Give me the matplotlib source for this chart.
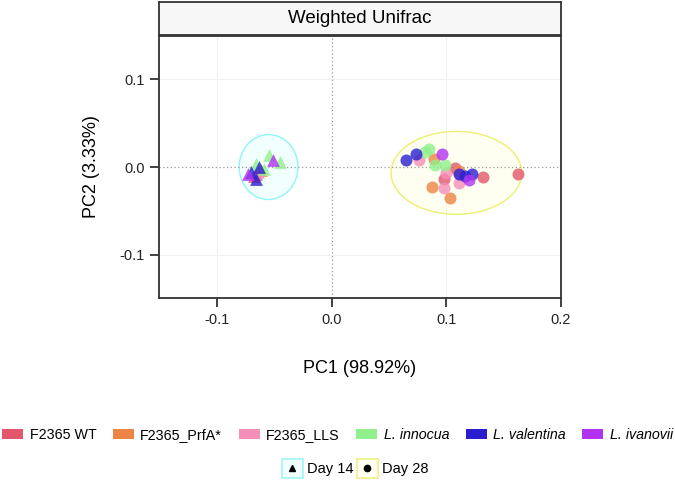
import numpy as np
import matplotlib.pyplot as plt
from matplotlib.patches import Ellipse, Rectangle, Patch
from matplotlib.lines import Line2D

plt.rcParams['font.family'] = ['Liberation Sans', 'DejaVu Sans']

# groups and colours
groups = ["F2365 WT", "F2365_PrfA*", "F2365_LLS", "L. innocua", "L. valentina", "L. ivanovii"]
colors = ["#E3566B", "#EC8444", "#F58EB8", "#90F08C", "#2A1FD0", "#B232F2"]

# Day 14 (triangles) - PC1 / PC2 per group
d14_x = {
    "F2365 WT":     [-0.0661, -0.0676],
    "F2365_PrfA*":  [-0.0617],
    "F2365_LLS":    [-0.0641],
    "L. innocua":   [-0.0545, -0.0452, -0.0661, -0.0589],
    "L. valentina": [-0.0704, -0.0656, -0.0632],
    "L. ivanovii":  [-0.0508, -0.0725],
}
d14_y = {
    "F2365 WT":     [-0.0075, -0.0106],
    "F2365_PrfA*":  [-0.0038],
    "F2365_LLS":    [-0.0060],
    "L. innocua":   [0.0133, 0.0057, 0.0039, -0.0018],
    "L. valentina": [-0.0057, -0.0132, 0.0000],
    "L. ivanovii":  [0.0076, -0.0075],
}

# Day 28 (circles)
d28_x = {
    "F2365 WT":     [0.1078, 0.0983, 0.1316, 0.1623],
    "F2365_PrfA*":  [0.0890, 0.1107, 0.0875, 0.1029],
    "F2365_LLS":    [0.0759, 0.1000, 0.1116, 0.1113, 0.0983],
    "L. innocua":   [0.0817, 0.0846, 0.0898, 0.0985],
    "L. valentina": [0.0652, 0.0736, 0.1107, 0.1223, 0.1159],
    "L. ivanovii":  [0.0962, 0.1200],
}
d28_y = {
    "F2365 WT":     [-0.0011, -0.0136, -0.0114, -0.0075],
    "F2365_PrfA*":  [0.0091, -0.0045, -0.0227, -0.0352],
    "F2365_LLS":    [0.0076, -0.0068, -0.0075, -0.0182, -0.0239],
    "L. innocua":   [0.0170, 0.0201, 0.0027, 0.0023],
    "L. valentina": [0.0076, 0.0144, -0.0083, -0.0083, -0.0106],
    "L. ivanovii":  [0.0144, -0.0143],
}

# confidence ellipses (center x, center y, width, height)
ell_d14 = [-0.0550, 0.0000, 0.0513, 0.0739]
ell_d28 = [0.1088, -0.0066, 0.1140, 0.0943]

fig = plt.figure(figsize=(6.75, 4.8), dpi=100)
ax = fig.add_axes([0.2356, 0.379, 0.5955, 0.546])

ax.add_patch(Ellipse((ell_d14[0], ell_d14[1]), ell_d14[2], ell_d14[3],
                     facecolor=(0.5, 1.0, 1.0, 0.10), edgecolor="#8FF5F5", lw=1.0, zorder=1))
ax.add_patch(Ellipse((ell_d28[0], ell_d28[1]), ell_d28[2], ell_d28[3],
                     facecolor=(1.0, 1.0, 0.55, 0.12), edgecolor="#EEEE70", lw=1.0, zorder=1))

for g, c in zip(groups, colors):
    ax.scatter(d14_x[g], d14_y[g], marker="^", s=85, color=c, alpha=0.8, lw=0, zorder=3)
    ax.scatter(d28_x[g], d28_y[g], marker="o", s=75, color=c, alpha=0.8, lw=0, zorder=3)

ax.axhline(0, color="#999999", ls=(0, (1, 2)), lw=0.9, zorder=2)
ax.axvline(0, color="#999999", ls=(0, (1, 2)), lw=0.9, zorder=2)

ax.set_xlim(-0.1505, 0.2)
ax.set_ylim(-0.149, 0.149)
ax.set_xticks([-0.1, 0.0, 0.1, 0.2])
ax.set_xticklabels(["-0.1", "0.0", "0.1", "0.2"])
ax.set_yticks([-0.1, 0.0, 0.1])
ax.set_yticklabels(["-0.1", "0.0", "0.1"])
for v in [-0.1, 0.1]:
    ax.axvline(v, color="#F0F0F0", lw=0.8, zorder=0)
    ax.axhline(v, color="#F0F0F0", lw=0.8, zorder=0)

for s in ax.spines.values():
    s.set_color("#333333")
    s.set_linewidth(1.3)
ax.tick_params(length=6.5, width=1.3, color="#333333", labelsize=10.5,
               labelcolor="#222222", pad=4)
ax.set_xlabel("PC1 (98.92%)", fontsize=13, labelpad=24)
ax.set_ylabel("PC2 (3.33%)", fontsize=13, labelpad=14)

# facet strip
sax = fig.add_axes([0.2356, 0.927, 0.5955, 0.069])
sax.set_facecolor("#F7F7F7")
sax.set_xticks([])
sax.set_yticks([])
for s in sax.spines.values():
    s.set_color("#333333")
    s.set_linewidth(1.3)
sax.text(0.5, 0.5, "Weighted Unifrac", ha="center", va="center", fontsize=13.5,
         transform=sax.transAxes)

# colour legend
col_handles = [Patch(facecolor=c, edgecolor="none") for c in colors]
leg1 = fig.legend(col_handles, groups, loc="center", bbox_to_anchor=(0.5, 0.094),
                  ncol=6, frameon=False, fontsize=10.3, handlelength=1.45,
                  handleheight=0.75, handletextpad=0.45, columnspacing=1.17,
                  borderpad=0, borderaxespad=0)
for t in leg1.get_texts()[3:]:
    t.set_fontstyle("italic")


class BoxedMarker:
    def __init__(self, marker, edge, fill):
        self.marker = marker
        self.edge = edge
        self.fill = fill


class BoxedHandler:
    def legend_artist(self, legend, orig, fontsize, handlebox):
        x0, y0 = -handlebox.xdescent, -handlebox.ydescent
        w, h = handlebox.width, handlebox.height
        tr = handlebox.get_transform()
        rect = Rectangle((x0, y0 - 3), w, h + 6, facecolor=orig.fill,
                         edgecolor=orig.edge, lw=1.2, transform=tr)
        handlebox.add_artist(rect)
        m = Line2D([x0 + w / 2], [y0 + h / 2], marker=orig.marker, ms=4.5,
                   color="black", lw=0, transform=tr)
        handlebox.add_artist(m)
        return rect


day_handles = [BoxedMarker("^", "#9FF5F5", "#F2FFFF"),
               BoxedMarker("o", "#F0F08A", "#FFFFF2")]
leg2 = fig.legend(day_handles, ["Day 14", "Day 28"], loc="center",
                  bbox_to_anchor=(0.526, 0.022), ncol=2, frameon=False,
                  fontsize=10.5, handlelength=1.45, handletextpad=0.3,
                  columnspacing=0.2,
                  handler_map={BoxedMarker: BoxedHandler()})

fig.savefig("out.png", dpi=100)
